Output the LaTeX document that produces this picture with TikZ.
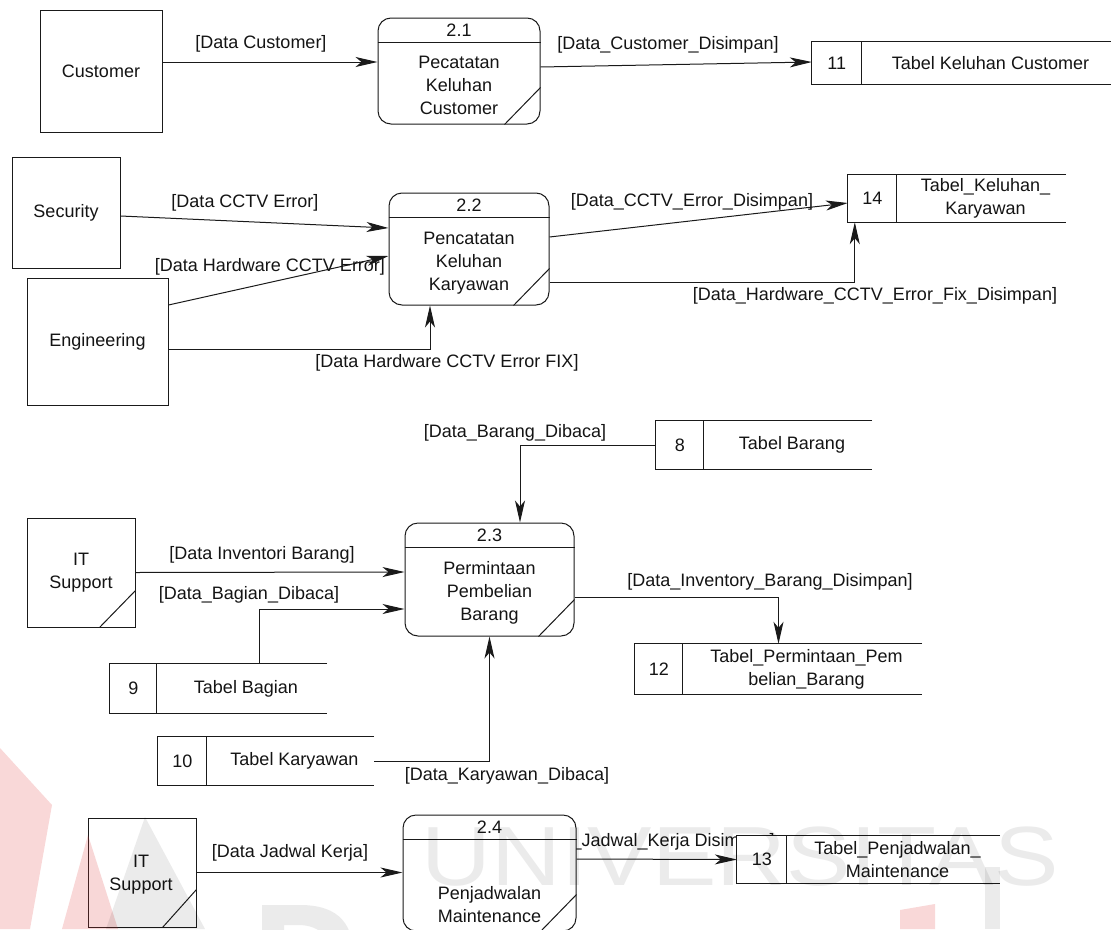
\documentclass[tikz,border=0pt]{standalone}
\usepackage{fontspec}
\setmainfont{Liberation Sans}
\usetikzlibrary{arrows.meta,calc}
\definecolor{lc}{HTML}{1A1A1A}
\definecolor{tc}{HTML}{141414}
\definecolor{wmred}{HTML}{E03A3A}

% process: name, cx, cy, width, height, number, body text, body offset
\newcommand\dfdproc[8]{%
  \node[proc, minimum width=#4pt, minimum height=#5pt] (#1) at (#2,#3) {};
  \draw[ln] ($(#1.north west)+(0,25)$) -- ($(#1.north east)+(0,25)$);
  \draw[ln] ($(#1.south east)+(-36,0)$) -- ($(#1.south east)+(0,-37)$);
  \node (#1-num) at ($(#1.north)+(0,12.5)$) {#6};
  \node[align=center] (#1-txt) at ($(#1.center)+(0,#8)$) {#7};
}
% data store (open on the right): name, cx, cy, width, height, id width, id, text
\newcommand\dfdstore[8]{%
  \node[store, minimum width=#4pt, minimum height=#5pt] (#1) at (#2,#3) {};
  \draw[ln] (#1.north east) -- (#1.north west) -- (#1.south west) -- (#1.south east);
  \draw[ln] ($(#1.north west)+(#6,0)$) -- ($(#1.south west)+(#6,0)$);
  \node (#1-id) at ($(#1.west)+(#6/2,0)$) {#7};
  \node[align=center] (#1-txt) at ($($(#1.west)+(#6,0)$)!0.5!(#1.east)+(4,0)$) {#8};
}

\begin{document}
\begin{tikzpicture}[x=1pt,y=-1pt,
  every node/.style={font=\fontsize{18}{23}\selectfont, text=tc, inner sep=0pt},
  ln/.style={draw=lc, line width=1pt},
  flow/.style={ln, -{Stealth[length=22pt,width=10pt,inset=6pt]}},
  proc/.style={ln, rounded corners=13pt, fill=white},
  ent/.style={ln, fill=white, align=center},
  store/.style={fill=white}]
\useasboundingbox (0,0) rectangle (1111,929);
\clip (0,0) rectangle (1111,929);

% ---------- 2.1 ----------
\node[ent, minimum width=122pt, minimum height=122pt] (cust) at (101,71) {Customer};
\dfdproc{p1}{459}{71}{162}{106}{2.1}{Pecatatan\\Keluhan\\Customer}{14.5}
\dfdstore{s11}{961.5}{63}{299}{42}{50}{11}{Tabel Keluhan Customer}
\draw[flow] ($(cust.east)+(0,-9)$) -- ($(p1.west)+(0,-9)$);
\node (l1) at (261,44) {[Data Customer]};
\draw[flow] ($(p1.east)+(0,-4)$) -- ($(s11.west)+(0,-1)$);
\node (l2) at (668,45) {[Data\_Customer\_Disimpan]};

% ---------- 2.2 ----------
\node[ent, minimum width=108pt, minimum height=111pt] (sec) at (66,212.5) {Security};
\node[ent, minimum width=141pt, minimum height=127pt] (eng) at (97.5,341.5) {Engineering};
\dfdproc{p2}{469}{249}{160}{112}{2.2}{Pencatatan\\Keluhan\\Karyawan}{14}
\dfdstore{s14}{957}{198.5}{218}{47}{49}{14}{Tabel\_Keluhan\_\\Karyawan}
\draw[flow] ($(sec.east)+(0,3.5)$) -- ($(p2.west)+(0,-21)$);
\node (l3) at (245,203) {[Data CCTV Error]};
\draw[flow] ($(eng.east)+(0,-36.5)$) -- ($(p2.west)+(0,7)$);
\node (l4) at (270,267) {[Data Hardware CCTV Error]};
\draw[flow] ($(eng.east)+(0,7.5)$) -| ($(p2.south)+(-39,0)$);
\node (l5) at (447,363) {[Data Hardware CCTV Error FIX]};
\draw[flow] ($(p2.east)+(0,-12)$) -- ($(s14.west)+(0,4.5)$);
\node (l6) at (692,202) {[Data\_CCTV\_Error\_Disimpan]};
\draw[flow] ($(p2.east)+(0,33)$) -| ($(s14.south west)+(7,0)$);
\node (l7) at (875,296) {[Data\_Hardware\_CCTV\_Error\_Fix\_Disimpan]};

% ---------- 2.3 ----------
\node[ent, minimum width=108pt, minimum height=109pt] (it1) at (81,572.5) {IT\\Support};
\draw[ln] ($(it1.south east)+(-36,0)$) -- ($(it1.south east)+(0,-37)$);
\dfdproc{p3}{489.5}{579.5}{169}{113}{2.3}{Permintaan\\Pembelian\\Barang}{13.5}
\dfdstore{s8}{764}{445}{216}{48}{48}{8}{Tabel Barang}
\dfdstore{s9}{218.5}{688.5}{217}{49}{47}{9}{Tabel Bagian}
\dfdstore{s10}{266}{761}{216}{48}{49}{10}{Tabel Karyawan}
\dfdstore{s12}{778.5}{669}{287}{50}{48}{12}{Tabel\_Permintaan\_Pem\\belian\_Barang}
\draw[flow] (s8.west) -| ($(p3.north)+(30.5,0)$);
\node (l8) at (515,433) {[Data\_Barang\_Dibaca]};
\draw[flow] (it1.east) -- ($(p3.west)+(0,-7.5)$);
\node (l9) at (262,555) {[Data Inventori Barang]};
\draw[flow] ($(s9.north)+(40.5,0)$) |- ($(p3.west)+(0,29.5)$);
\node (l10) at (249,595) {[Data\_Bagian\_Dibaca]};
\draw[flow] (s10.east) -| (p3.south);
\node (l11) at (507,776) {[Data\_Karyawan\_Dibaca]};
\draw[flow] ($(p3.east)+(0,17.5)$) -| (s12.north);
\node (l12) at (770,582) {[Data\_Inventory\_Barang\_Disimpan]};

% ---------- 2.4 ----------
\node[anchor=east] (l14) at (775,842) {[Data\_Jadwal\_Kerja Disimpan]};
\node[ent, minimum width=108pt, minimum height=109pt] (it2) at (142,872.5) {};
\node[align=center] (it2-txt) at (141,875) {IT\\Support};
\draw[ln] ($(it2.south east)+(-34,0)$) -- ($(it2.south east)+(0,-38)$);
\dfdproc{p4}{489.5}{873}{173}{116}{2.4}{Penjadwalan\\Maintenance}{32}
\dfdstore{s13}{868.5}{859.5}{263}{47}{50}{13}{Tabel\_Penjadwalan\_\\Maintenance}
\draw[flow] (it2.east) -- ($(p4.west)+(0,-0.5)$);
\node (l13) at (290,853) {[Data Jadwal Kerja]};
\draw[flow] ($(p4.east)+(0,-14)$) -- (s13.west);

% ---------- faint watermark overlay ----------
\begin{scope}[opacity=0.2]
  \fill[wmred] (0,748) -- (52,805) -- (30,929) -- (0,929) -- cycle;
  \fill[wmred] (88,835) -- (118,929) -- (62,929) -- cycle;
  \fill[wmred] (900,910) -- (935,904) -- (935,929) -- (900,929) -- cycle;
\end{scope}
\begin{scope}[opacity=0.08]
  \fill (145,817) -- (205,929) -- (106,929) -- cycle;
  \fill[even odd rule] (262,905) -- (300,905) .. controls (340,905) and (354,925) .. (354,960) -- (262,960) -- cycle
        (284,925) -- (298,925) .. controls (322,925) and (332,940) .. (332,960) -- (284,960) -- cycle;
  \fill (985,867) rectangle (1000,929);
  \node[text=black, font=\fontsize{84}{84}\selectfont, xscale=1.15] (wmu) at (740,857) {UNIVERSITAS};
\end{scope}
\end{tikzpicture}
\end{document}
